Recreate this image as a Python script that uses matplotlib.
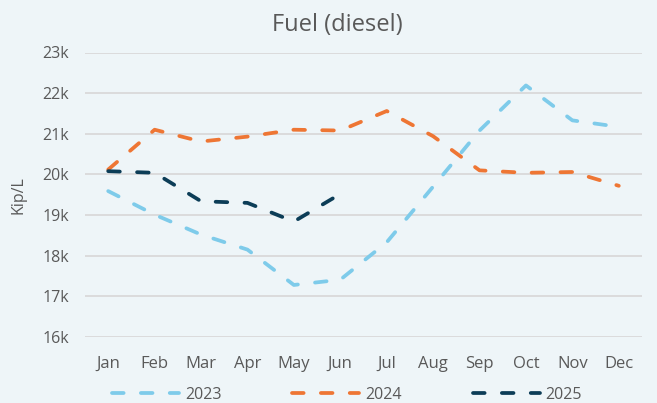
import matplotlib
matplotlib.use("Agg")
import matplotlib.pyplot as plt
from matplotlib.ticker import FuncFormatter

months = ["Jan", "Feb", "Mar", "Apr", "May", "Jun", "Jul", "Aug", "Sep", "Oct", "Nov", "Dec"]
fuel_2023 = [19590, 19010, 18520, 18150, 17280, 17410, 18330, 19700, 21080, 22190, 21330, 21170]
fuel_2024 = [20120, 21100, 20810, 20930, 21100, 21080, 21560, 20940, 20100, 20040, 20060, 19720]
fuel_2025 = [20080, 20040, 19340, 19300, 18840, 19520]
series_names = ["2023", "2024", "2025"]
colors = ["#7ecbea", "#ee7634", "#0c3d57"]

plt.rcParams["font.family"] = ["Open Sans", "DejaVu Sans"]
bg = "#eef5f8"
txt = "#595959"

fig = plt.figure(figsize=(6.57, 4.03), dpi=100, facecolor=bg)
ax = fig.add_axes([85/657, (403-337)/403, 557/657, 284.5/403], facecolor=bg)

x = list(range(len(months)))
for vals, name, c in zip([fuel_2023, fuel_2024, fuel_2025], series_names, colors):
    ax.plot(x[:len(vals)], vals, color=c, lw=2.7, dashes=(3.1, 4.6),
            dash_capstyle="round", solid_capstyle="round", label=name)

ax.set_xlim(-0.5, 11.5)
ax.set_ylim(16000, 23000)
ax.set_yticks(range(16000, 23001, 1000))
ax.yaxis.set_major_formatter(FuncFormatter(lambda v, p: f"{int(v/1000)}k"))
ax.set_xticks(x)
ax.set_xticklabels(months)
ax.grid(axis="y", color="#d9d9d9", lw=1.3)
ax.set_axisbelow(True)
for s in ax.spines.values():
    s.set_visible(False)
ax.tick_params(axis="y", length=0, labelsize=11.5, colors=txt, pad=11.5)
ax.tick_params(axis="x", length=0, labelsize=12, colors=txt, pad=13.5)
ax.set_ylabel("Kip/L", color=txt, fontsize=11.5)
ax.yaxis.set_label_coords(-0.105, 0.5)

fig.text(337/657, 1 - 25/403, "Fuel (diesel)", ha="center", va="center", fontsize=17, color=txt)

leg = fig.legend(loc="center", bbox_to_anchor=(347/657, 1 - 395/403), ncol=3, frameon=False,
                 fontsize=11.5, handlelength=4.2, columnspacing=4.45, handletextpad=0.35,
                 labelcolor=txt)

fig.savefig("out.png", dpi=100, facecolor=bg)
